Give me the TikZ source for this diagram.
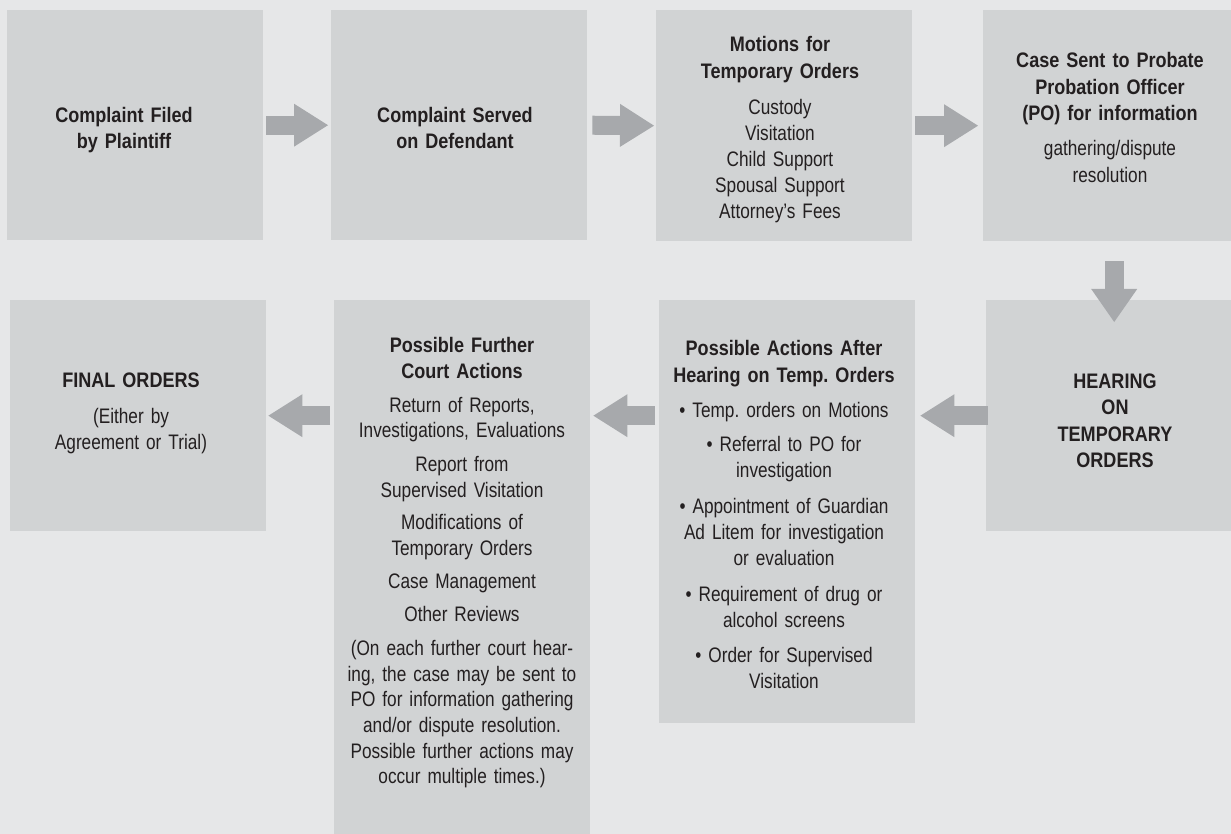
\documentclass[tikz,border=0pt]{standalone}
\usepackage{fontspec}
\setmainfont{Liberation Sans}[FakeStretch=0.82,BoldFeatures={FakeStretch=0.86}]
\usetikzlibrary{arrows.meta,calc}
\definecolor{bgc}{HTML}{E6E7E8}
\definecolor{boxc}{HTML}{D1D3D4}
\definecolor{arrc}{HTML}{A7A9AC}
\definecolor{txtc}{HTML}{231F20}
\frenchspacing
\begin{document}
\begin{tikzpicture}[x=1pt,y=-1pt,
  stage/.style={fill=boxc, draw=none, inner sep=0pt, anchor=north west, minimum width=256pt},
  boxtext/.style={anchor=north, inner sep=0pt, text width=250pt, align=center, text=txtc,
    font=\fontsize{21}{26}\selectfont\frenchspacing},
  flow/.style={draw=arrc, line width=19pt,
    -{Triangle[length=34pt,width=43pt,line width=0pt]}},
]
\useasboundingbox (0,0) rectangle (1231,834);
\fill[bgc] (0,0) rectangle (1231,834);
\clip (0,0) rectangle (1231,834);

% stages, row 1
\node[stage, minimum height=230pt] (b1) at (7,10) {};
\node[stage, minimum height=230pt] (b2) at (331,10) {};
\node[stage, minimum height=231pt] (b3) at (656,10) {};
\node[stage, minimum height=231pt] (b4) at (983,10) {};
% stages, row 2
\node[stage, minimum height=231pt] (b5) at (986,300) {};
\node[stage, minimum height=423pt] (b6) at (659,300) {};
\node[stage, minimum height=560pt] (b7) at (334,300) {};
\node[stage, minimum height=231pt] (b8) at (10,300) {};

% texts
\node[boxtext] (t1) at (124,103.8) {\strut\textbf{Complaint Filed}\\\textbf{by Plaintiff}};
\node[boxtext] (t2) at (455,103.8) {\strut\textbf{Complaint Served}\\\textbf{on Defendant}};
\node[boxtext] (t3) at (780,32.8) {\strut\textbf{Motions for}\\[1pt]\textbf{Temporary Orders}\\[10pt]Custody\\Visitation\\Child Support\\Spousal Support\\Attorney’s Fees};
\node[boxtext] (t4) at (1110,48.8) {\strut\textbf{Case Sent to Probate}\\[1pt]\textbf{Probation Officer}\\\textbf{(PO) for information}\\[9pt]gathering/dispute\\[1pt]resolution};
\node[boxtext] (t5) at (1115,369.8) {\strut\textbf{HEARING}\\\textbf{ON}\\[1pt]\textbf{TEMPORARY}\\\textbf{ORDERS}};
\node[boxtext] (t6) at (784,336.8) {\strut\textbf{Possible Actions After}\\[1pt]\textbf{Hearing on Temp. Orders}\\[9pt]• Temp. orders on Motions\\[8pt]• Referral to PO for\\investigation\\[10pt]• Appointment of Guardian\\Ad Litem for investigation\\or evaluation\\[10pt]• Requirement of drug or\\alcohol screens\\[9pt]• Order for Supervised\\Visitation};
\node[boxtext] (t7) at (462,333.8) {\strut\textbf{Possible Further}\\\textbf{Court Actions}\\[8pt]Return of Reports,\\[-1pt]Investigations, Evaluations\\[8pt]Report from\\Supervised Visitation\\[6pt]Modifications of\\Temporary Orders\\[7pt]Case Management\\[7pt]Other Reviews\\[8pt](On each further court hear-\\ing, the case may be sent to\\[-1pt]PO for information gathering\\and/or dispute resolution.\\Possible further actions may\\[-1pt]occur multiple times.)};
\node[boxtext] (t8) at (131,368.8) {\strut\textbf{FINAL ORDERS}\\[10pt](Either by\\Agreement or Trial)};

% connectors
\draw[flow, shorten <=3pt, shorten >=3pt] (b1.east) -- (b2.west);
\draw[flow, shorten <=5pt, shorten >=2pt] (b2.east) -- (b3.west);
\draw[flow, shorten <=3pt, shorten >=5pt] (b3.east) -- (b4.west);
\draw[draw=arrc, line width=19pt, -{Triangle[length=33pt,width=46pt,line width=0pt]},
  shorten <=20pt, shorten >=-22pt] (b4.south -| b5.north) -- (b5.north);
\draw[flow, shorten <=-2pt, shorten >=5pt] (b5.west) -- (b5.west -| b6.east);
\draw[flow, shorten <=4pt, shorten >=3pt] (b5.west -| b6.west) -- (b5.west -| b7.east);
\draw[flow, shorten <=4pt, shorten >=2pt] (b5.west -| b7.west) -- (b5.west -| b8.east);
\end{tikzpicture}
\end{document}
